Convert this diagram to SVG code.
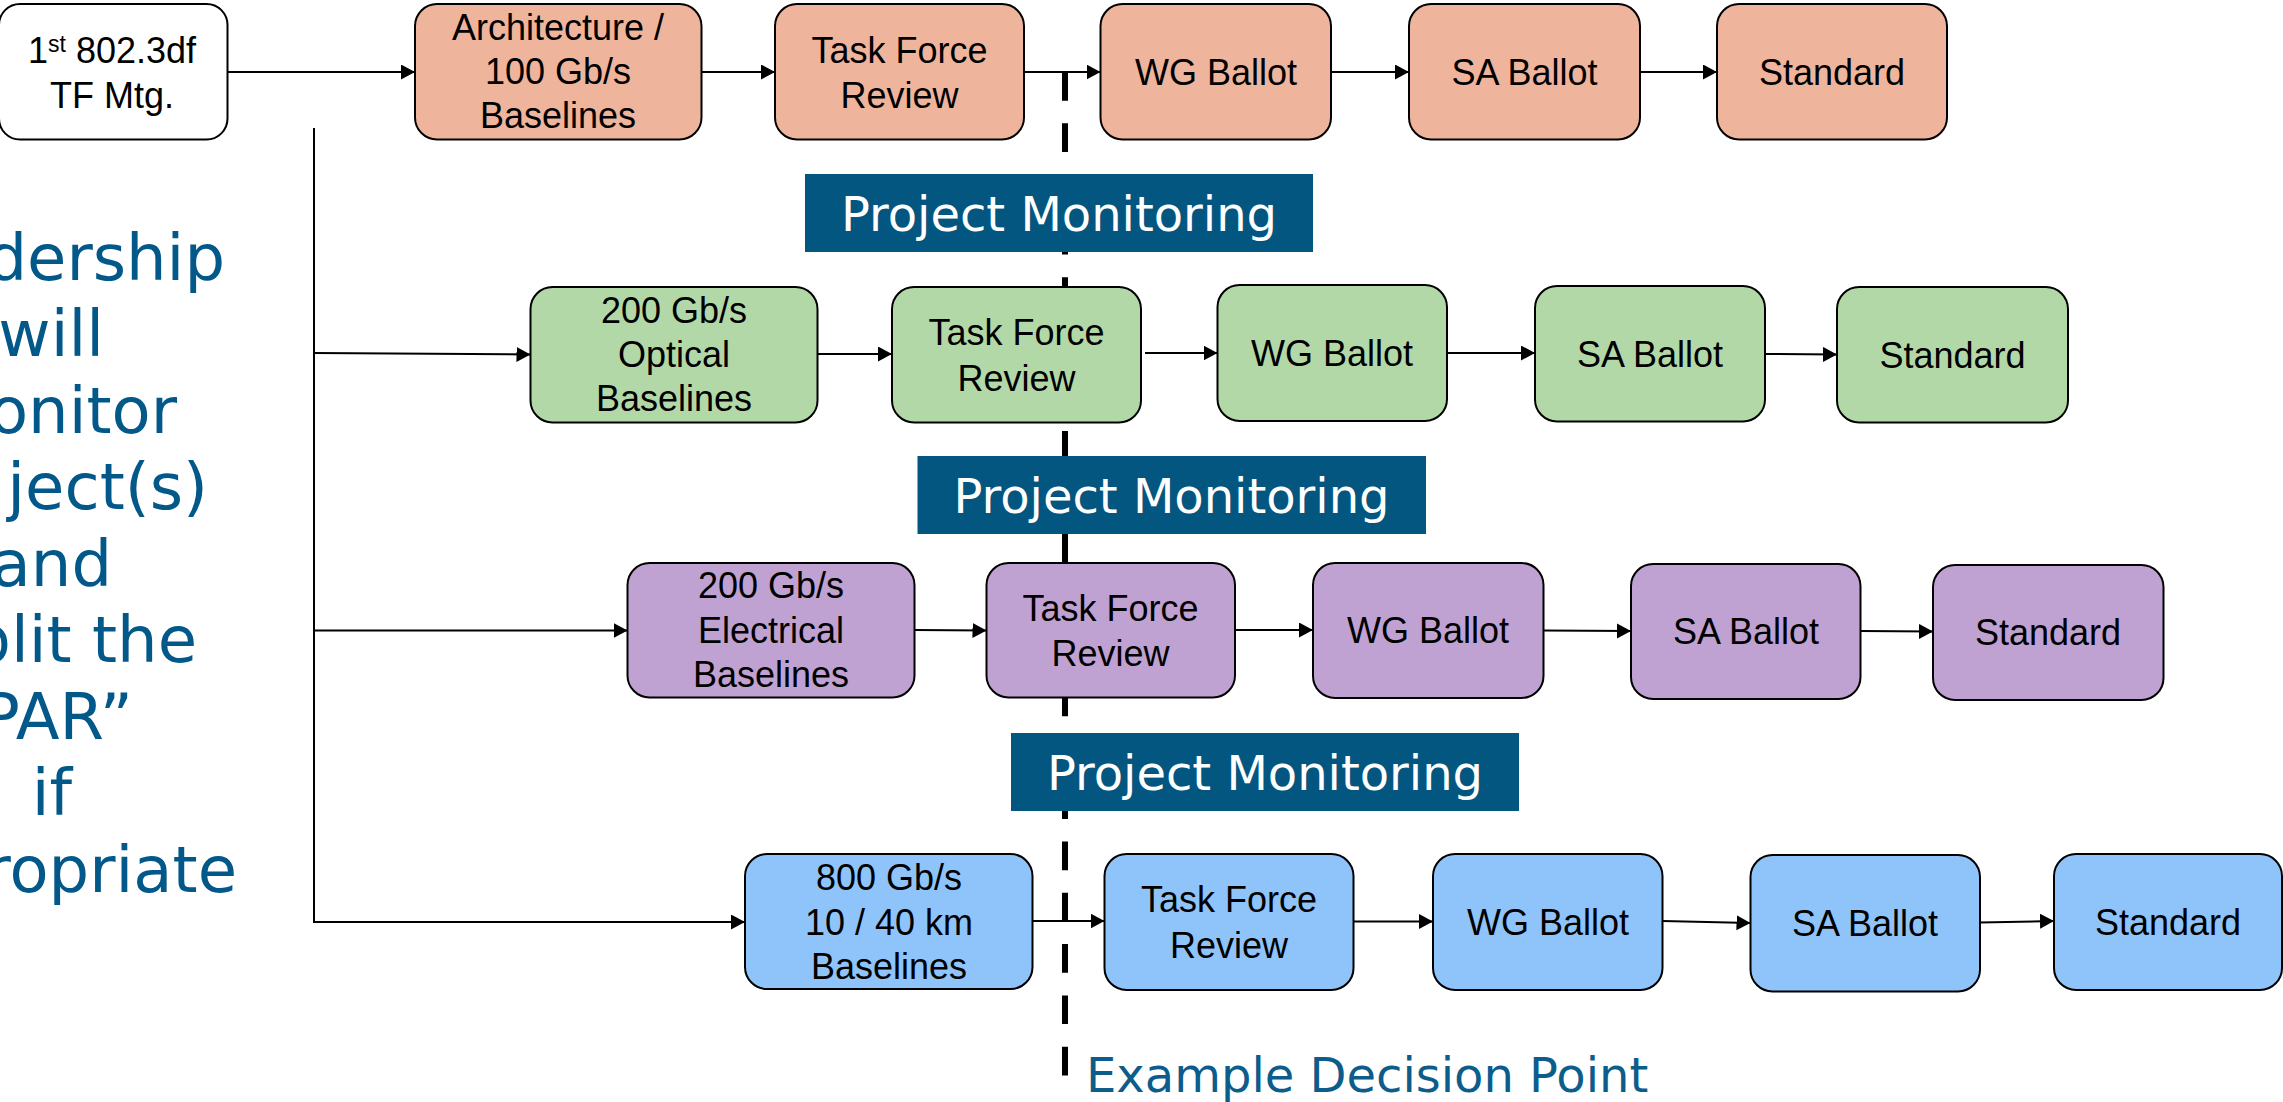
<svg xmlns="http://www.w3.org/2000/svg" width="2283" height="1102" viewBox="0 0 2283 1102">
  <style>
    .node rect { stroke: #000; stroke-width: 2; }
    .start rect { fill: #ffffff; }
    .r1 rect { fill: #efb49c; }
    .r2 rect { fill: #b3d8a8; }
    .r3 rect { fill: #bfa2d2; }
    .r4 rect { fill: #8fc4fa; }
    .node text { font-family: "Liberation Sans", Arial, sans-serif; font-size: 36px; fill: #000; text-anchor: middle; }
    .edge { stroke: #000; stroke-width: 2; fill: none; }
    .arrow { marker-end: url(#head); }
    .pm rect { fill: #02567f; }
    .pm text { font-family: "DejaVu Sans", Verdana, sans-serif; font-size: 48px; fill: #ffffff; text-anchor: middle; }
    .side { font-family: "DejaVu Sans", Verdana, sans-serif; font-size: 64px; fill: #03588a; text-anchor: end; }
    .note { font-family: "DejaVu Sans", Verdana, sans-serif; font-size: 48px; fill: #0c5d8c; }
  </style>
  <defs>
    <marker id="head" markerUnits="userSpaceOnUse" markerWidth="15" markerHeight="16" refX="14" refY="7.5" orient="auto">
      <path d="M0,0 L14,7.5 L0,15 Z" fill="#000"/>
    </marker>
  </defs>

  <rect x="0" y="0" width="2283" height="1102" fill="#ffffff"/>

  <!-- decision point marker, drawn beneath the boxes -->
  <line id="decision-line" x1="1065" y1="72" x2="1065" y2="1076" stroke="#000" stroke-width="6" stroke-dasharray="28.7 22.6"/>

  <!-- side note -->
  <g id="side-note">
    <text class="side" x="225" y="279.5">dership</text>
    <text class="side" x="104" y="356">will</text>
    <text class="side" x="177" y="432.5">onitor</text>
    <text class="side" x="208" y="509">ject(s)</text>
    <text class="side" x="112" y="585.5">and</text>
    <text class="side" x="197" y="662">plit the</text>
    <text class="side" x="133" y="738.5">PAR”</text>
    <text class="side" x="72" y="815">if</text>
    <text class="side" x="237" y="891.5">ropriate</text>
  </g>

  <!-- connectors -->
  <g id="connectors">
    <!-- row 1 -->
    <line class="edge arrow" x1="227.5" y1="72" x2="415" y2="72"/>
    <line class="edge arrow" x1="701.5" y1="72" x2="775" y2="72"/>
    <line class="edge arrow" x1="1024" y1="72" x2="1100.5" y2="72"/>
    <line class="edge arrow" x1="1331" y1="72" x2="1409" y2="72"/>
    <line class="edge arrow" x1="1640" y1="72" x2="1717" y2="72"/>
    <!-- trunk -->
    <line class="edge" x1="314" y1="128" x2="314" y2="923"/>
    <!-- row 2 -->
    <line class="edge arrow" x1="314" y1="353" x2="530.5" y2="354.5"/>
    <line class="edge arrow" x1="817.5" y1="354" x2="892" y2="354"/>
    <line class="edge arrow" x1="1145" y1="353" x2="1217.5" y2="353"/>
    <line class="edge arrow" x1="1448" y1="353" x2="1535" y2="353"/>
    <line class="edge arrow" x1="1765" y1="354" x2="1837" y2="354.5"/>
    <!-- row 3 -->
    <line class="edge arrow" x1="314" y1="630.5" x2="627.5" y2="630.5"/>
    <line class="edge arrow" x1="914.5" y1="630" x2="986.5" y2="630.5"/>
    <line class="edge arrow" x1="1235" y1="630" x2="1313" y2="630"/>
    <line class="edge arrow" x1="1543.5" y1="630.5" x2="1631" y2="631"/>
    <line class="edge arrow" x1="1860.5" y1="631" x2="1933" y2="631.5"/>
    <!-- row 4 -->
    <line class="edge arrow" x1="314" y1="922" x2="745" y2="922"/>
    <line class="edge arrow" x1="1032.5" y1="921" x2="1104.5" y2="921"/>
    <line class="edge arrow" x1="1353.5" y1="921.5" x2="1433" y2="921.5"/>
    <line class="edge arrow" x1="1662.5" y1="921" x2="1750.5" y2="923"/>
    <line class="edge arrow" x1="1980" y1="922.5" x2="2054" y2="921"/>
  </g>

  <!-- row 1 -->
  <g id="tf-meeting" class="node start">
    <rect x="-1" y="4" width="228.5" height="135.5" rx="21"/>
    <text x="112" y="62.5">1<tspan font-size="23" dy="-10.5">st</tspan><tspan dy="10.5"> 802.3df</tspan></text>
    <text x="112" y="108">TF Mtg.</text>
  </g>
  <g id="r1-arch" class="node r1">
    <rect x="415" y="4" width="286.5" height="135.5" rx="22"/>
    <text x="558" y="40">Architecture /</text>
    <text x="558" y="84">100 Gb/s</text>
    <text x="558" y="128">Baselines</text>
  </g>
  <g id="r1-tfr" class="node r1">
    <rect x="775" y="4" width="249" height="135.5" rx="22"/>
    <text x="899.5" y="62.5">Task Force</text>
    <text x="899.5" y="108">Review</text>
  </g>
  <g id="r1-wg" class="node r1">
    <rect x="1100.5" y="4" width="230.5" height="135.5" rx="22"/>
    <text x="1216" y="85">WG Ballot</text>
  </g>
  <g id="r1-sa" class="node r1">
    <rect x="1409" y="4" width="231" height="135.5" rx="22"/>
    <text x="1524.5" y="85">SA Ballot</text>
  </g>
  <g id="r1-std" class="node r1">
    <rect x="1717" y="4" width="230" height="135.5" rx="22"/>
    <text x="1832" y="85">Standard</text>
  </g>

  <!-- row 2 -->
  <g id="r2-optical" class="node r2">
    <rect x="530.5" y="287" width="287" height="135.5" rx="22"/>
    <text x="674" y="323">200 Gb/s</text>
    <text x="674" y="367">Optical</text>
    <text x="674" y="411">Baselines</text>
  </g>
  <g id="r2-tfr" class="node r2">
    <rect x="892" y="287" width="249" height="135.5" rx="22"/>
    <text x="1016.5" y="345">Task Force</text>
    <text x="1016.5" y="390.5">Review</text>
  </g>
  <g id="r2-wg" class="node r2">
    <rect x="1217.5" y="285" width="229.5" height="136" rx="22"/>
    <text x="1332" y="366">WG Ballot</text>
  </g>
  <g id="r2-sa" class="node r2">
    <rect x="1535" y="286" width="230" height="135.5" rx="22"/>
    <text x="1650" y="367">SA Ballot</text>
  </g>
  <g id="r2-std" class="node r2">
    <rect x="1837" y="287" width="231" height="135.5" rx="22"/>
    <text x="1952.5" y="368">Standard</text>
  </g>

  <!-- row 3 -->
  <g id="r3-electrical" class="node r3">
    <rect x="627.5" y="563" width="287" height="134.5" rx="22"/>
    <text x="771" y="598">200 Gb/s</text>
    <text x="771" y="642.5">Electrical</text>
    <text x="771" y="687">Baselines</text>
  </g>
  <g id="r3-tfr" class="node r3">
    <rect x="986.5" y="563" width="248.5" height="134.5" rx="22"/>
    <text x="1110.5" y="621">Task Force</text>
    <text x="1110.5" y="666">Review</text>
  </g>
  <g id="r3-wg" class="node r3">
    <rect x="1313" y="563" width="230.5" height="135" rx="22"/>
    <text x="1428" y="643">WG Ballot</text>
  </g>
  <g id="r3-sa" class="node r3">
    <rect x="1631" y="564" width="229.5" height="135" rx="22"/>
    <text x="1746" y="644">SA Ballot</text>
  </g>
  <g id="r3-std" class="node r3">
    <rect x="1933" y="565" width="230.5" height="135" rx="22"/>
    <text x="2048" y="645">Standard</text>
  </g>

  <!-- row 4 -->
  <g id="r4-800g" class="node r4">
    <rect x="745" y="854" width="287.5" height="135" rx="22"/>
    <text x="889" y="890">800 Gb/s</text>
    <text x="889" y="935">10 / 40 km</text>
    <text x="889" y="979">Baselines</text>
  </g>
  <g id="r4-tfr" class="node r4">
    <rect x="1104.5" y="854" width="249" height="136" rx="22"/>
    <text x="1229" y="912">Task Force</text>
    <text x="1229" y="957.5">Review</text>
  </g>
  <g id="r4-wg" class="node r4">
    <rect x="1433" y="854" width="229.5" height="136" rx="22"/>
    <text x="1548" y="934.5">WG Ballot</text>
  </g>
  <g id="r4-sa" class="node r4">
    <rect x="1750.5" y="855" width="229.5" height="136.5" rx="22"/>
    <text x="1865" y="936">SA Ballot</text>
  </g>
  <g id="r4-std" class="node r4">
    <rect x="2054" y="854" width="228" height="136" rx="22"/>
    <text x="2168" y="934.5">Standard</text>
  </g>

  <!-- monitoring banners -->
  <g id="monitor-1" class="pm">
    <rect x="805" y="174" width="508" height="78"/>
    <text x="1059" y="231">Project Monitoring</text>
  </g>
  <g id="monitor-2" class="pm">
    <rect x="917.5" y="456" width="508.5" height="78"/>
    <text x="1171.5" y="512.5">Project Monitoring</text>
  </g>
  <g id="monitor-3" class="pm">
    <rect x="1011" y="733" width="508" height="78"/>
    <text x="1265" y="790">Project Monitoring</text>
  </g>

  <text id="decision-label" class="note" x="1086" y="1092">Example Decision Point</text>
</svg>
